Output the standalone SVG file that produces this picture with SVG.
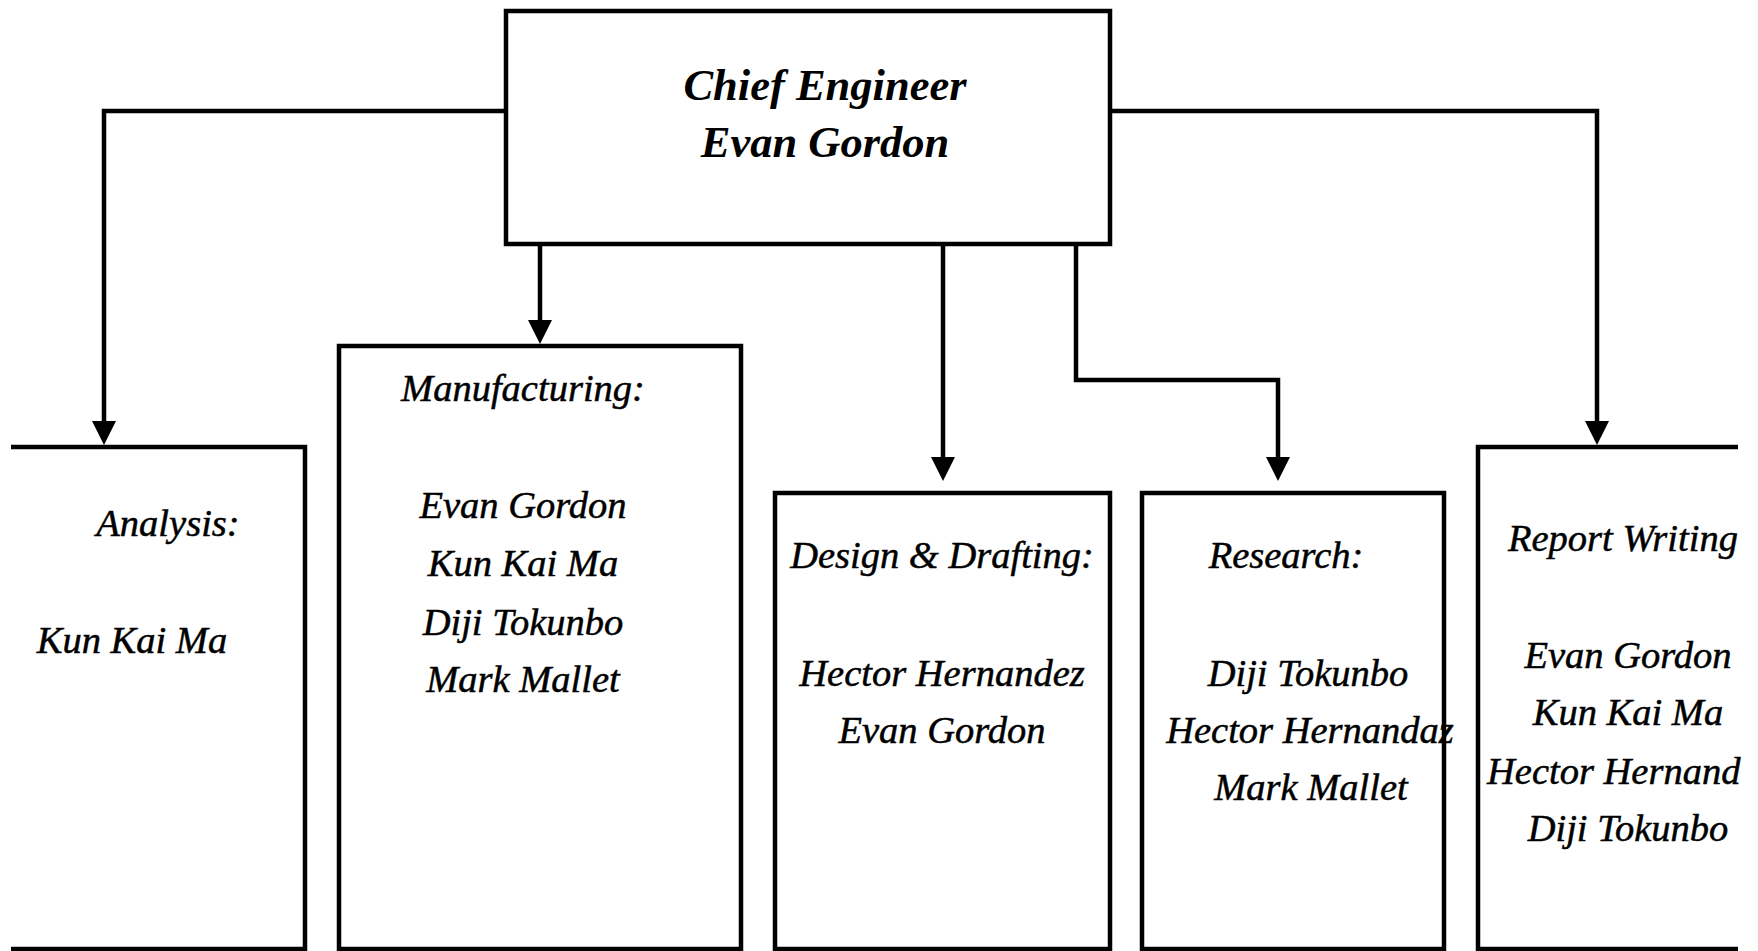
<svg xmlns="http://www.w3.org/2000/svg" width="1758" height="951" viewBox="0 0 1758 951">
<style>
.box{fill:none;stroke:#000;stroke-width:4.5;stroke-linejoin:miter}
.conn{fill:none;stroke:#000;stroke-width:4.5}
text{font-family:"Liberation Serif","Times New Roman",serif;font-style:italic;fill:#000;stroke:#000;stroke-width:0.5;font-size:38.5px;text-anchor:middle}
.title{font-weight:bold;font-size:44.5px;stroke-width:0}
</style>
<rect width="1758" height="951" fill="#fff"/>
<g id="connectors">
<path class="conn" d="M506,111 H104 V425"/>
<path class="conn" d="M540,244 V324"/>
<path class="conn" d="M943,244 V461"/>
<path class="conn" d="M1076,244 V380 H1278 V461"/>
<path class="conn" d="M1110,111 H1597 V425"/>
<g fill="#000">
<path d="M92,421 L116,421 L104,445 Z"/>
<path d="M528,320 L552,320 L540,344 Z"/>
<path d="M931,457 L955,457 L943,481 Z"/>
<path d="M1266,457 L1290,457 L1278,481 Z"/>
<path d="M1585,421 L1609,421 L1597,445 Z"/>
</g>
</g>
<g id="chief">
<rect class="box" x="506" y="11" width="604" height="233"/>
<text class="title" x="825" y="100">Chief Engineer</text>
<text class="title" x="825" y="157">Evan Gordon</text>
</g>
<g id="analysis">
<path class="box" d="M11,447 H305 V949 H11"/>
<text x="168" y="536">Analysis:</text>
<text x="132" y="653">Kun Kai Ma</text>
</g>
<g id="manufacturing">
<rect class="box" x="339" y="346" width="402" height="603"/>
<text x="523" y="401">Manufacturing:</text>
<text x="523" y="518">Evan Gordon</text>
<text x="523" y="576">Kun Kai Ma</text>
<text x="523" y="635">Diji Tokunbo</text>
<text x="523" y="692">Mark Mallet</text>
</g>
<g id="design">
<rect class="box" x="775" y="493" width="335" height="456"/>
<text x="942" y="568">Design &amp; Drafting:</text>
<text x="942" y="686">Hector Hernandez</text>
<text x="942" y="743">Evan Gordon</text>
</g>
<g id="research">
<rect class="box" x="1142" y="493" width="302" height="456"/>
<text x="1286" y="568">Research:</text>
<text x="1308" y="686">Diji Tokunbo</text>
<text x="1310" y="743">Hector Hernandaz</text>
<text x="1311" y="800">Mark Mallet</text>
</g>
<g id="report">
<path class="box" d="M1738,447 H1478 V949 H1738"/>
<text x="1508" y="551" style="text-anchor:start">Report Writing</text>
<text x="1628" y="668">Evan Gordon</text>
<text x="1628" y="725">Kun Kai Ma</text>
<text x="1487" y="784" style="text-anchor:start">Hector Hernand</text>
<text x="1628" y="841">Diji Tokunbo</text>
</g>
</svg>
